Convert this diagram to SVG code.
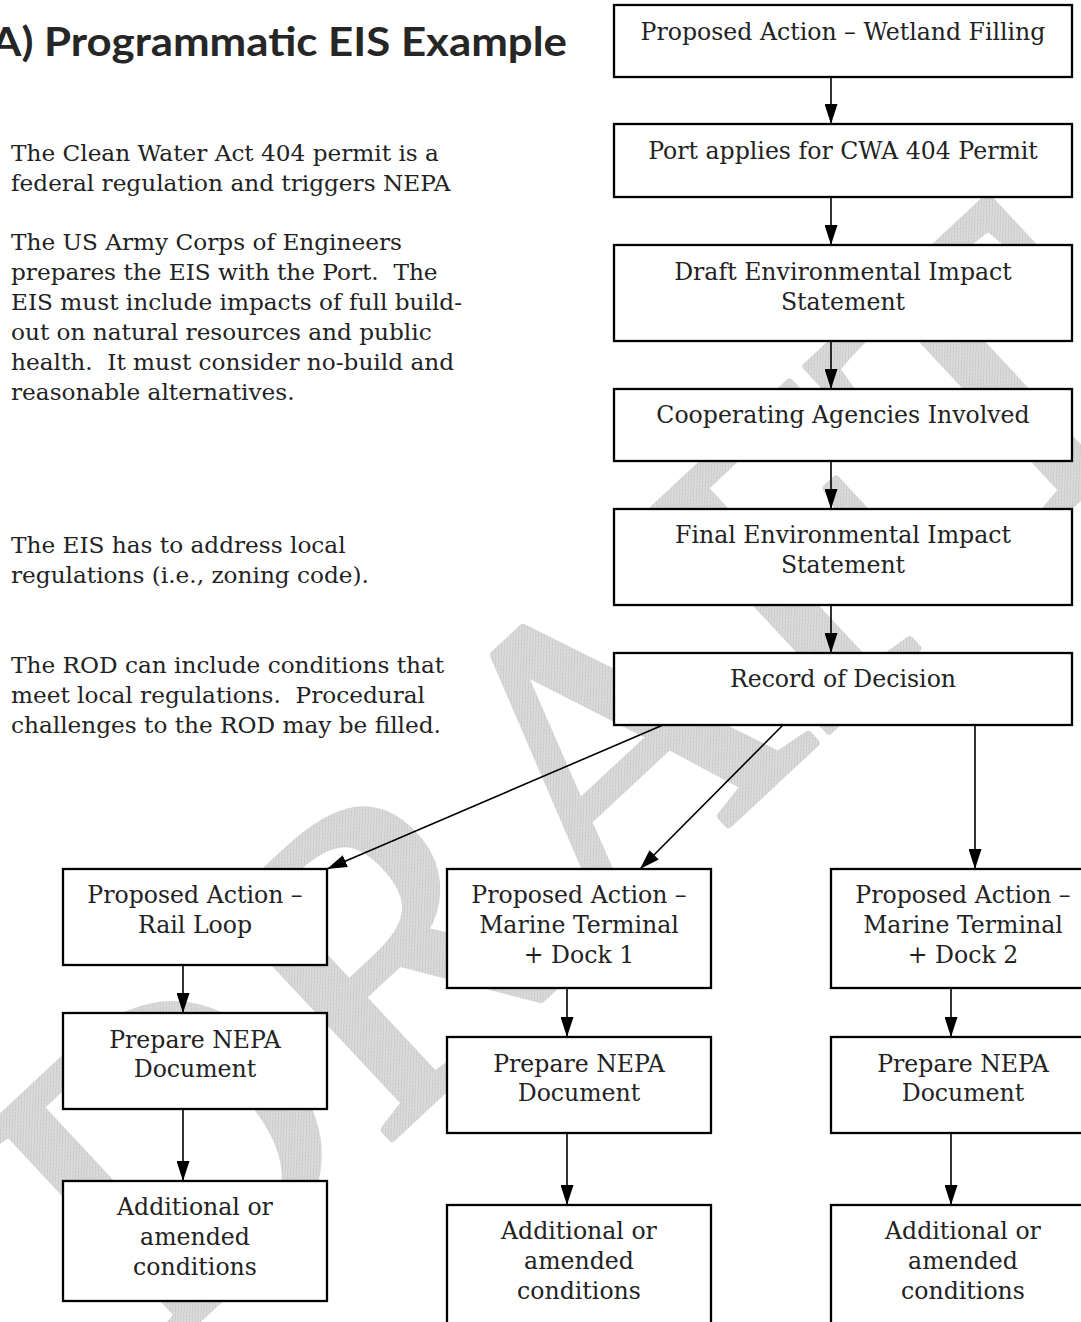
<svg xmlns="http://www.w3.org/2000/svg" width="1081" height="1322" viewBox="0 0 1081 1322">
<style>
.box{fill:#fff;stroke:#000;stroke-width:2.3}
.t{font-family:"DejaVu Serif","Liberation Serif",serif;font-size:23.6px;fill:#222;text-anchor:middle}
.p{font-family:"DejaVu Serif","Liberation Serif",serif;font-size:23.2px;fill:#222;white-space:pre}
.c{stroke:#000;stroke-width:1.6;fill:none;marker-end:url(#ah)}
.title{font-family:Lato,"Open Sans",sans-serif;font-weight:bold;font-size:41px;fill:#262626}
.wm{font-family:"Liberation Serif",serif;font-size:430px;fill:url(#hatch);stroke:url(#hatch);stroke-width:8;stroke-linejoin:round}
</style>
<defs>
<marker id="ah" markerUnits="userSpaceOnUse" markerWidth="20" markerHeight="13" refX="20" refY="6.5" orient="auto">
<path d="M0,0 L20,6.5 L0,13 Z" fill="#000"/>
</marker>
<pattern id="hatch" patternUnits="userSpaceOnUse" width="4" height="4">
<rect width="4" height="4" fill="#dadada"/>
<path d="M0,4 L4,0" stroke="#c6c6c6" stroke-width="1"/>
</pattern>
</defs>
<g id="watermark">
<text class="wm" transform="translate(154,1360) rotate(-43)" x="0" y="0">DRAFT</text>
</g>
<g id="title"><text class="title" x="-9" y="56" textLength="576" lengthAdjust="spacingAndGlyphs">A) Programmatic EIS Example</text></g>
<g id="notes">
<text class="p" x="11" y="161">The Clean Water Act 404 permit is a</text>
<text class="p" x="11" y="191">federal regulation and triggers NEPA</text>
<text class="p" x="11" y="250">The US Army Corps of Engineers</text>
<text class="p" x="11" y="280">prepares the EIS with the Port.  The</text>
<text class="p" x="11" y="310">EIS must include impacts of full build-</text>
<text class="p" x="11" y="340">out on natural resources and public</text>
<text class="p" x="11" y="370">health.  It must consider no-build and</text>
<text class="p" x="11" y="400">reasonable alternatives.</text>
<text class="p" x="11" y="553">The EIS has to address local</text>
<text class="p" x="11" y="583">regulations (i.e., zoning code).</text>
<text class="p" x="11" y="673">The ROD can include conditions that</text>
<text class="p" x="11" y="703">meet local regulations.  Procedural</text>
<text class="p" x="11" y="733">challenges to the ROD may be filled.</text>
</g>
<g id="connectors">
<line class="c" x1="831" y1="77" x2="831" y2="124"/>
<line class="c" x1="831" y1="197" x2="831" y2="245"/>
<line class="c" x1="831" y1="341" x2="831" y2="389"/>
<line class="c" x1="831" y1="461" x2="831" y2="509"/>
<line class="c" x1="831" y1="605" x2="831" y2="653"/>
<line class="c" x1="663" y1="725" x2="327" y2="869"/>
<line class="c" x1="783" y1="725" x2="640" y2="869"/>
<line class="c" x1="975" y1="725" x2="975" y2="869"/>
<line class="c" x1="183" y1="965" x2="183" y2="1013"/>
<line class="c" x1="183" y1="1109" x2="183" y2="1181"/>
<line class="c" x1="567" y1="988" x2="567" y2="1037"/>
<line class="c" x1="567" y1="1133" x2="567" y2="1205"/>
<line class="c" x1="951" y1="988" x2="951" y2="1037"/>
<line class="c" x1="951" y1="1133" x2="951" y2="1205"/>
</g>
<g id="n1"><rect class="box" x="614" y="5" width="458" height="72"/><text class="t" x="843" y="40">Proposed Action – Wetland Filling</text></g>
<g id="n2"><rect class="box" x="614" y="124" width="458" height="73"/><text class="t" x="843" y="159">Port applies for CWA 404 Permit</text></g>
<g id="n3"><rect class="box" x="614" y="245" width="458" height="96"/><text class="t" x="843" y="280">Draft Environmental Impact</text><text class="t" x="843" y="310">Statement</text></g>
<g id="n4"><rect class="box" x="614" y="389" width="458" height="72"/><text class="t" x="843" y="423">Cooperating Agencies Involved</text></g>
<g id="n5"><rect class="box" x="614" y="509" width="458" height="96"/><text class="t" x="843" y="543">Final Environmental Impact</text><text class="t" x="843" y="573">Statement</text></g>
<g id="n6"><rect class="box" x="614" y="653" width="458" height="72"/><text class="t" x="843" y="687">Record of Decision</text></g>
<g id="n7"><rect class="box" x="63" y="869" width="264" height="96"/><text class="t" x="195" y="903">Proposed Action –</text><text class="t" x="195" y="933">Rail Loop</text></g>
<g id="n8"><rect class="box" x="447" y="869" width="264" height="119"/><text class="t" x="579" y="903">Proposed Action –</text><text class="t" x="579" y="933">Marine Terminal</text><text class="t" x="579" y="963">+ Dock 1</text></g>
<g id="n9"><rect class="box" x="831" y="869" width="264" height="119"/><text class="t" x="963" y="903">Proposed Action –</text><text class="t" x="963" y="933">Marine Terminal</text><text class="t" x="963" y="963">+ Dock 2</text></g>
<g id="n10"><rect class="box" x="63" y="1013" width="264" height="96"/><text class="t" x="195" y="1048">Prepare NEPA</text><text class="t" x="195" y="1077">Document</text></g>
<g id="n11"><rect class="box" x="447" y="1037" width="264" height="96"/><text class="t" x="579" y="1072">Prepare NEPA</text><text class="t" x="579" y="1101">Document</text></g>
<g id="n12"><rect class="box" x="831" y="1037" width="264" height="96"/><text class="t" x="963" y="1072">Prepare NEPA</text><text class="t" x="963" y="1101">Document</text></g>
<g id="n13"><rect class="box" x="63" y="1181" width="264" height="120"/><text class="t" x="195" y="1215">Additional or</text><text class="t" x="195" y="1245">amended</text><text class="t" x="195" y="1275">conditions</text></g>
<g id="n14"><rect class="box" x="447" y="1205" width="264" height="130"/><text class="t" x="579" y="1239">Additional or</text><text class="t" x="579" y="1269">amended</text><text class="t" x="579" y="1299">conditions</text></g>
<g id="n15"><rect class="box" x="831" y="1205" width="264" height="130"/><text class="t" x="963" y="1239">Additional or</text><text class="t" x="963" y="1269">amended</text><text class="t" x="963" y="1299">conditions</text></g>
</svg>
